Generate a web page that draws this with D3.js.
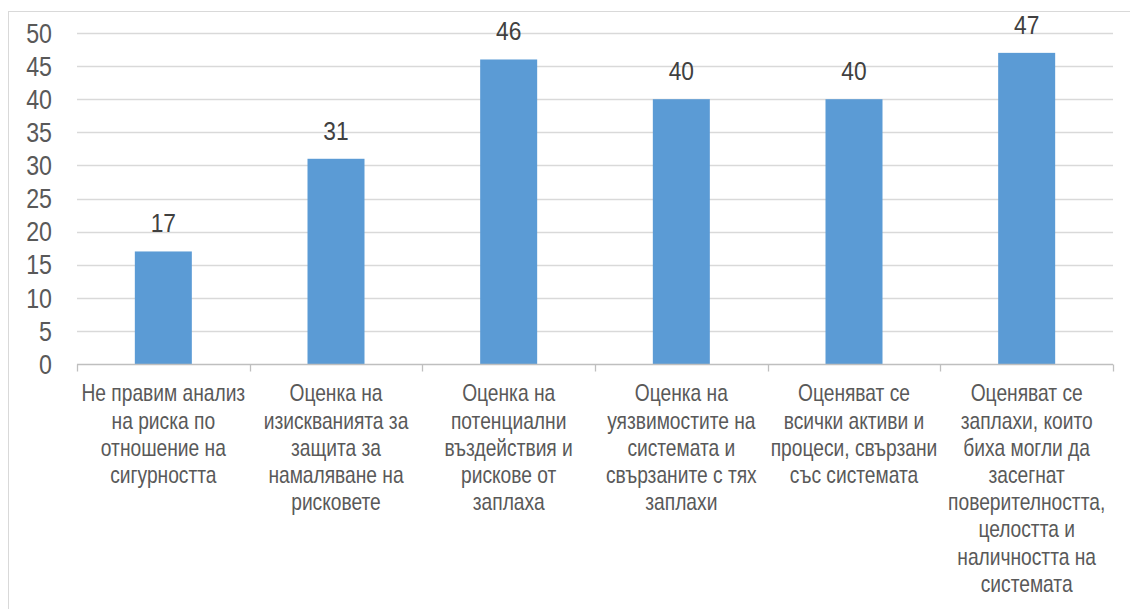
<!DOCTYPE html>
<html><head><meta charset="utf-8">
<script src="https://cdn.jsdelivr.net/npm/d3@7"></script>
<style>body{margin:0;background:#fff}svg{display:block}</style>
</head><body>
<script>
const categories = [
  ["Не правим анализ","на риска по","отношение на","сигурността"],
  ["Оценка на","изискванията за","защита за","намаляване на","рисковете"],
  ["Оценка на","потенциални","въздействия и","рискове от","заплаха"],
  ["Оценка на","уязвимостите на","системата и","свързаните с тях","заплахи"],
  ["Оценяват се","всички активи и","процеси, свързани","със системата"],
  ["Оценяват се","заплахи, които","биха могли да","засегнат","поверителността,","целостта и","наличността на","системата"]
];
const values = [17, 31, 46, 40, 40, 47];
const yTicks = [0,5,10,15,20,25,30,35,40,45,50];

const W = 1130, H = 609;
const FONT = "Liberation Sans, Arial, sans-serif";
const svg = d3.select("body").append("svg").attr("width", W).attr("height", H);
svg.append("rect").attr("x",8.5).attr("y",11.5).attr("width",1140).attr("height",620)
  .attr("fill","none").attr("stroke","#d9d9d9");

const m = {l:77, r:1113, t:33, b:364};
const xb = d3.scaleBand().domain(d3.range(values.length)).range([m.l, m.r]);
const y = d3.scaleLinear().domain([0,50]).range([m.b, m.t]);

svg.append("g").selectAll("line").data(yTicks.filter(d=>d>0)).join("line")
  .attr("x1", m.l).attr("x2", m.r).attr("y1", d=>Math.round(y(d))+0.5).attr("y2", d=>Math.round(y(d))+0.5)
  .attr("stroke","#d9d9d9").attr("stroke-width",1.3);

// y tick labels (condensed)
svg.append("g").selectAll("g").data(yTicks).join("g")
  .attr("transform", d=>`translate(52,${y(d)}) scale(0.86,1)`)
  .append("text").attr("text-anchor","end").attr("dy","0.36em")
  .attr("font-family",FONT).attr("font-size",27).attr("fill","#595959").text(d=>d);

const barW = 57;
svg.append("g").selectAll("rect").data(values).join("rect")
  .attr("x",(d,i)=>xb(i)+xb.bandwidth()/2-barW/2).attr("width",barW)
  .attr("y",d=>y(d)).attr("height",d=>y(0)-y(d)).attr("fill","#5B9BD5");

svg.append("g").selectAll("g").data(values).join("g")
  .attr("transform",(d,i)=>`translate(${xb(i)+xb.bandwidth()/2},${y(d)-19}) scale(0.86,1)`)
  .append("text").attr("text-anchor","middle")
  .attr("font-family",FONT).attr("font-size",26.5).attr("fill","#404040").text(d=>d);

// x axis
const xAxis = svg.append("g").attr("transform",`translate(0,${m.b+0.5})`);
xAxis.append("line").attr("x1",m.l).attr("x2",m.r).attr("stroke","#bfbfbf").attr("stroke-width",1.3);
xAxis.selectAll("line.t").data(d3.range(values.length+1)).join("line").attr("class","t")
  .attr("x1",i=>Math.round(m.l+i*xb.bandwidth())+0.5).attr("x2",i=>Math.round(m.l+i*xb.bandwidth())+0.5)
  .attr("y1",0).attr("y2",7).attr("stroke","#bfbfbf").attr("stroke-width",1.3);

const lab = svg.append("g").selectAll("g").data(categories).join("g")
  .attr("transform",(d,i)=>`translate(${xb(i)+xb.bandwidth()/2},0) scale(0.8,1)`)
  .append("text").attr("text-anchor","middle").attr("font-family",FONT)
  .attr("font-size",24).attr("fill","#595959");
lab.each(function(lines){
  const t = d3.select(this);
  lines.forEach((s,k)=>{
    t.append("tspan").attr("x",0).attr("y", 401.5 + k*27.2).text(s);
  });
});
</script>
</body></html>
